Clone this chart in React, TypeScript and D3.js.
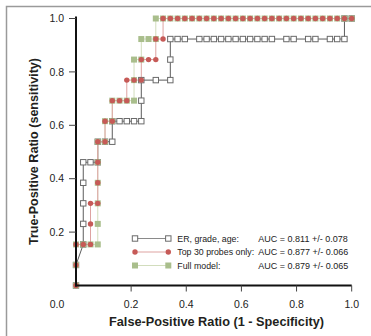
import React from 'react';
import * as d3 from 'd3';

// ROC points as [false positives, true positives] counts
const nNeg = 38;
const nPos = 13;

const erGradeAge = [
  [0, 0], [0, 1], [1, 2], [1, 3], [1, 4], [1, 5], [1, 6], [2, 6], [3, 6], [3, 7], [4, 7],
  [5, 7], [5, 8], [6, 8], [7, 8], [8, 8], [9, 8], [9, 9], [9, 10], [11, 10], [13, 10],
  [13, 11], [13, 12], [14, 12], [15, 12], [17, 12], [18, 12], [19, 12], [20, 12], [21, 12],
  [22, 12], [23, 12], [24, 12], [25, 12], [26, 12], [27, 12], [29, 12], [30, 12], [32, 12],
  [33, 12], [35, 12], [36, 12], [37, 12], [37, 13], [38, 13],
];

const top30 = [
  [0, 0], [0, 1], [0, 2], [1, 2], [2, 2], [2, 3], [2, 4], [3, 4], [3, 5], [3, 6], [3, 7],
  [4, 7], [4, 8], [5, 8], [5, 9], [6, 9], [7, 9], [7, 10], [8, 10], [9, 10], [9, 11],
  [10, 11], [11, 11], [11, 12], [12, 12], [12, 13], [13, 13], [14, 13], [15, 13], [16, 13],
  [17, 13], [18, 13], [19, 13], [20, 13], [21, 13], [22, 13], [23, 13], [24, 13], [25, 13],
  [26, 13], [27, 13], [28, 13], [29, 13], [30, 13], [31, 13], [32, 13], [33, 13], [34, 13],
  [35, 13], [36, 13], [37, 13], [38, 13],
];

const fullModel = [
  [0, 0], [0, 1], [0, 2], [1, 2], [2, 2], [3, 2], [3, 3], [3, 4], [3, 5], [3, 6], [3, 7],
  [4, 7], [4, 8], [5, 8], [5, 9], [6, 9], [7, 9], [8, 9], [8, 10], [8, 11], [9, 11],
  [9, 12], [10, 12], [11, 12], [11, 13], [12, 13], [13, 13], [14, 13], [15, 13], [16, 13],
  [17, 13], [18, 13], [19, 13], [20, 13], [21, 13], [22, 13], [23, 13], [24, 13], [25, 13],
  [26, 13], [27, 13], [28, 13], [29, 13], [30, 13], [31, 13], [32, 13], [33, 13], [34, 13],
  [35, 13], [36, 13], [37, 13], [38, 13],
];

const legendNames = ['ER, grade, age:', 'Top 30 probes only:', 'Full model:'];
const legendAuc = ['AUC = 0.811 +/- 0.078', 'AUC = 0.877 +/- 0.066', 'AUC = 0.879 +/- 0.065'];
const xTicks = [0, 0.2, 0.4, 0.6, 0.8, 1.0];
const yTicks = [0.2, 0.4, 0.6, 0.8, 1.0];

const RED = '#c65a57';
const GREEN = '#a9be8c';
const PINK = '#dea3a1';
const LGREEN = '#d2ddbd';
const GRAY = '#5c5c5c';

export default function App() {
  const x = d3.scaleLinear().domain([0, 1]).range([76, 351.7]);
  const y = d3.scaleLinear().domain([0, 1]).range([285.5, 18.5]);
  const px = (d: number[]) => x(d[0] / nNeg);
  const py = (d: number[]) => y(d[1] / nPos);
  const line = d3.line<number[]>().x(px).y(py);

  const sq = (cx: number, cy: number, s: number, props: any, key?: any) => (
    <rect key={key} x={cx - s / 2} y={cy - s / 2} width={s} height={s} {...props} />
  );

  const erSq = (cx: number, cy: number, key?: any) =>
    sq(cx, cy, 5.4, { fill: '#fff', stroke: '#6a6a6a', strokeWidth: 1 }, key);
  const grSq = (cx: number, cy: number, key?: any) => sq(cx, cy, 6, { fill: GREEN }, key);
  const rdDot = (cx: number, cy: number, key?: any) => (
    <circle key={key} cx={cx} cy={cy} r={2.7} fill={RED} />
  );

  const font = 'Liberation Sans, Arial, Helvetica, sans-serif';
  const narrow = 'Liberation Sans Narrow, Arial Narrow, Liberation Sans, Arial, sans-serif';

  const legY = [238.5, 252, 265.5];
  const legX0 = 135;
  const legX1 = 168.3;

  return (
    <svg width={371} height={336} style={{ position: 'absolute', left: 0, top: 0 }}>
      <rect x={0} y={0} width={371} height={336} fill="#fff" />
      <rect x={6.5} y={6.5} width={420} height={400} fill="none" stroke="#9a9a9a" strokeWidth={1.5} />

      {/* curves */}
      <path d={line(erGradeAge) || ''} fill="none" stroke={GRAY} strokeWidth={1} />
      <path d={line(fullModel) || ''} fill="none" stroke={LGREEN} strokeWidth={1} />
      <path d={line(top30) || ''} fill="none" stroke={PINK} strokeWidth={1} />
      {erGradeAge.map((d, i) => erSq(px(d), py(d), 'e' + i))}
      {fullModel.map((d, i) => grSq(px(d), py(d), 'g' + i))}
      {top30.map((d, i) => rdDot(px(d), py(d), 'r' + i))}

      {/* axes */}
      <line x1={x(0)} x2={x(0)} y1={y(1) - 2} y2={y(0) + 1} stroke="#111" strokeWidth={2} />
      <line x1={x(0) - 1} x2={x(1)} y1={y(0)} y2={y(0)} stroke="#111" strokeWidth={2} />
      {yTicks.map((t) => (
        <g key={'yt' + t}>
          <line x1={x(0) - 7} x2={x(0)} y1={y(t)} y2={y(t)} stroke="#444" strokeWidth={1} />
          <text x={x(0) - 12} y={y(t)} dy="0.36em" textAnchor="end" fontFamily={font} fontSize={10.5} fill="#222">
            {t.toFixed(1)}
          </text>
        </g>
      ))}
      {xTicks.map((t) => (
        <g key={'xt' + t}>
          {t > 0 && <line x1={x(t)} x2={x(t)} y1={y(0)} y2={y(0) + 6} stroke="#444" strokeWidth={1} />}
          <text x={t === 0 ? x(0) - 19 : x(t)} y={307.5} textAnchor="middle" fontFamily={font} fontSize={10.5} fill="#222">
            {t.toFixed(1)}
          </text>
        </g>
      ))}

      {/* titles */}
      <text
        x={216.5}
        y={326}
        textAnchor="middle"
        fontFamily={narrow}
        fontWeight="bold"
        fontSize={13.5}
        fill="#231f20"
        textLength={215}
        lengthAdjust="spacingAndGlyphs"
      >
        False-Positive Ratio (1 - Specificity)
      </text>
      <text
        transform="translate(37.5,151.5) rotate(-90)"
        textAnchor="middle"
        fontFamily={narrow}
        fontWeight="bold"
        fontSize={13.5}
        fill="#231f20"
        textLength={187}
        lengthAdjust="spacingAndGlyphs"
      >
        True-Positive Ratio (sensitivity)
      </text>

      {/* legend */}
      <line x1={legX0} x2={legX1} y1={legY[0]} y2={legY[0]} stroke="#8a8a8a" strokeWidth={1} />
      {erSq(legX0, legY[0])}
      {erSq(legX1, legY[0])}
      <line x1={legX0} x2={legX1} y1={legY[1]} y2={legY[1]} stroke={PINK} strokeWidth={1} />
      {rdDot(legX0, legY[1])}
      {rdDot(legX1, legY[1])}
      <line x1={legX0} x2={legX1} y1={legY[2]} y2={legY[2]} stroke={LGREEN} strokeWidth={1} />
      {grSq(legX0, legY[2])}
      {grSq(legX1, legY[2])}
      {legendNames.map((n, i) => (
        <text key={'ln' + i} x={177.3} y={legY[i] + 3.3} fontFamily={font} fontSize={8.8} fill="#222">
          {n}
        </text>
      ))}
      {legendAuc.map((n, i) => (
        <text key={'la' + i} x={258.3} y={legY[i] + 3.3} fontFamily={font} fontSize={9} fill="#222">
          {n}
        </text>
      ))}
    </svg>
  );
}
